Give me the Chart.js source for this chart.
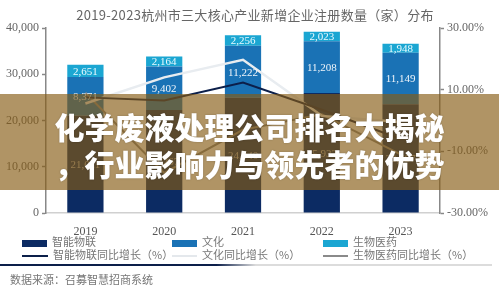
<!DOCTYPE html>
<html>
<head>
<meta charset="utf-8">
<script src="https://cdn.jsdelivr.net/npm/chart.js@4.4.0/dist/chart.umd.min.js"></script>
<style>
  body { margin: 0; background: #fff; }
  #wrap { position: relative; width: 499px; height: 285px; overflow: hidden; font-family: "Noto Sans CJK SC", sans-serif; }
  #title { position: absolute; left: 0; width: 510px; top: 5px; text-align: center; font-size: 13px; color: #666; letter-spacing: 0.3px; }
  .leg { position: absolute; font-size: 11px; color: #777; line-height: 13px; white-space: nowrap; }
  .leg i { display: inline-block; vertical-align: middle; margin-right: 5px; }
  #sep { position: absolute; left: 0; top: 264px; width: 492px; height: 2px;
         background: linear-gradient(to right, #0c1f4a 0%, #0c1f4a 44%, #dcdcdc 52%, #dcdcdc 100%); }
  #src { position: absolute; left: 10px; top: 271px; font-size: 11px; color: #777; }
  #band { position: absolute; left: 0; top: 94px; width: 499px; height: 96px; background: rgba(133, 91, 18, 0.65); }
  #band div { position: absolute; left: 0; width: 499px; text-align: center; color: #fff; font-weight: 900;
              font-size: 30px; line-height: 36px; text-shadow: 0 0 2px rgba(0,0,0,0.25); }
</style>
</head>
<body>
<div id="wrap">
  <canvas id="chart" width="499" height="285"></canvas>
  <div id="title">2019-2023杭州市三大核心产业新增企业注册数量（家）分布</div>
  <div class="leg" style="left:22px;top:235px"><i style="width:25px;height:7px;background:#0c2b63"></i>智能物联</div>
  <div class="leg" style="left:172px;top:235px"><i style="width:25px;height:7px;background:#1a72b5"></i>文化</div>
  <div class="leg" style="left:323px;top:235px"><i style="width:25px;height:7px;background:#1ba6d2"></i>生物医药</div>
  <div class="leg" style="left:22px;top:248px"><i style="width:26px;height:2px;background:#0c1f4a"></i>智能物联同比增长（%）</div>
  <div class="leg" style="left:172px;top:248px"><i style="width:25px;height:2px;background:#e4e8ec"></i>文化同比增长（%）</div>
  <div class="leg" style="left:323px;top:248px"><i style="width:25px;height:2px;background:#8a8a8a"></i>生物医药同比增长（%）</div>
  <div id="sep"></div>
  <div id="src">数据来源：召募智慧招商系统</div>
  <div id="band">
    <div style="top:14px">化学废液处理公司排名大揭秘</div>
    <div style="top:51px">，行业影响力与领先者的优势</div>
  </div>
</div>
<script>
// chart data
const years = ['2019', '2020', '2021', '2022', '2023'];
const iotCount = [21011, 22267, 24940, 25932, 23497];
const cultureCount = [8371, 9402, 11222, 11208, 11149];
const bioCount = [2651, 2164, 2256, 2023, 1948];
const iotGrowth = [7.5, 6.5, 12.3, 3.5, -6];
const cultureGrowth = [5.5, 14, 19.7, 1.5, -0.5];
const bioGrowth = [9, -17, -3, 2, -11];
const leftTicks = [0, 10000, 20000, 30000, 40000];
const rightTicks = [-30, -10, 10, 30];

// labels inside each bar segment
const barLabels = {
    id: 'barLabels',
    afterDatasetsDraw(chart) {
        const ctx = chart.ctx;
        ctx.save();
        ctx.font = '11px "Liberation Serif"';
        ctx.textAlign = 'center';
        ctx.textBaseline = 'middle';
        chart.data.datasets.forEach((ds, i) => {
            if (ds.type !== 'bar') return;
            const meta = chart.getDatasetMeta(i);
            meta.data.forEach((bar, j) => {
                const p = bar.getProps(['x', 'y', 'base'], true);
                ctx.fillStyle = ds.labelColor;
                ctx.fillText(ds.data[j].toLocaleString('en-US'), p.x, (p.y + p.base) / 2 + 1);
            });
        });
        ctx.restore();
    }
};

const ctx = document.getElementById('chart').getContext('2d');
const chart = new Chart(ctx, {
    data: {
        labels: years,
        datasets: [
            { type: 'line', label: '智能物联同比增长（%）', data: iotGrowth, yAxisID: 'y1', borderColor: '#0c1f4a', borderWidth: 2, pointRadius: 0, order: 0 },
            { type: 'line', label: '文化同比增长（%）', data: cultureGrowth, yAxisID: 'y1', borderColor: '#e8ecf0', borderWidth: 2.5, pointRadius: 0, order: 0 },
            { type: 'line', label: '生物医药同比增长（%）', data: bioGrowth, yAxisID: 'y1', borderColor: '#8a8a8a', borderWidth: 2, pointRadius: 0, order: 0 },
            { type: 'bar', label: '智能物联', data: iotCount, backgroundColor: '#0c2b63', labelColor: '#b8b8b8', stack: 's', order: 1 },
            { type: 'bar', label: '文化', data: cultureCount, backgroundColor: '#1a72b5', labelColor: '#eef4fa', stack: 's', order: 1 },
            { type: 'bar', label: '生物医药', data: bioCount, backgroundColor: '#1ba6d2', labelColor: '#eafaff', stack: 's', order: 1 }
        ]
    },
    options: {
        responsive: false,
        animation: false,
        layout: { padding: { top: 28, bottom: 50, left: 0, right: 0 } },
        plugins: { legend: { display: false }, tooltip: { enabled: false }, title: { display: false } },
        datasets: { bar: { categoryPercentage: 1, barPercentage: 0.46 } },
        scales: {
            x: {
                stacked: true,
                grid: { display: false },
                border: { display: true, color: '#d0d0d0', width: 1.5 },
                ticks: { color: '#555', font: { family: 'Liberation Serif', size: 12 }, padding: 4 },
                afterFit(s) { s.height = 22; }
            },
            y: {
                stacked: true,
                position: 'left',
                min: 0, max: 40000,
                afterBuildTicks(s) { s.ticks = leftTicks.map(v => ({ value: v })); },
                grid: { drawOnChartArea: false, drawTicks: true, tickLength: 4, color: '#888', tickWidth: 1.5 },
                border: { display: true, color: '#888', width: 1.5 },
                ticks: { color: '#666', font: { family: 'Liberation Serif', size: 12 }, padding: 3,
                         callback: v => v.toLocaleString('en-US') },
                afterFit(s) { s.width = 46; }
            },
            y1: {
                position: 'right',
                min: -30, max: 30,
                afterBuildTicks(s) { s.ticks = rightTicks.map(v => ({ value: v })); },
                grid: { drawOnChartArea: false, drawTicks: true, tickLength: 4, color: '#888', tickWidth: 1.5 },
                border: { display: true, color: '#888', width: 1.5 },
                ticks: { color: '#666', font: { family: 'Liberation Serif', size: 12 }, padding: 3,
                         callback: v => v.toFixed(2) + '%' },
                afterFit(s) { s.width = 59; }
            }
        }
    },
    plugins: [barLabels]
});
</script>
</body>
</html>
